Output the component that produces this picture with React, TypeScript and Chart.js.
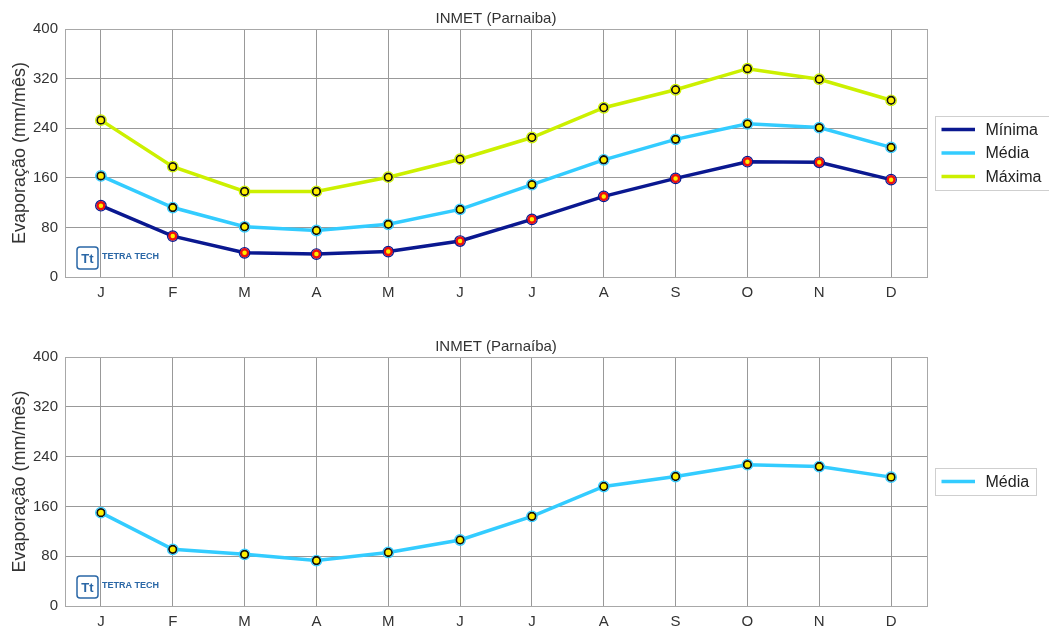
import React, { useEffect, useRef } from "react";
import { Chart, registerables } from "chart.js";
Chart.register(...registerables);

const months = ["J", "F", "M", "A", "M", "J", "J", "A", "S", "O", "N", "D"];
const minima = [115, 66, 39, 37, 41, 58, 93, 130, 159, 186, 185, 157];
const media = [163, 112, 81, 75, 85, 109, 149, 189, 222, 247, 241, 209];
const maxima = [253, 178, 138, 138, 161, 190, 225, 273, 302, 336, 319, 285];
const media2 = [150, 91, 83, 73, 86, 106, 144, 192, 208, 227, 224, 207];
const yMin = 0;
const yMax = 400;
const yStep = 80;
const titleTop = "INMET (Parnaiba)";
const titleBottom = "INMET (Parnaíba)";
const yTitle = "Evaporação (mm/mês)";
const logoText = "TETRA TECH";

const FONT = '"Liberation Sans", Arial, sans-serif';

const ringPlugin = {
  id: "rings",
  afterDatasetsDraw(chart: any) {
    const ctx = chart.ctx;
    ctx.save();
    chart.data.datasets.forEach((d: any, i: number) => {
      const meta = chart.getDatasetMeta(i);
      ctx.strokeStyle = d.borderColor;
      ctx.lineWidth = 1.2;
      meta.data.forEach((p: any) => {
        ctx.beginPath();
        ctx.arc(p.x, p.y, 5.3, 0, Math.PI * 2);
        ctx.stroke();
      });
    });
    ctx.restore();
  },
};

function overlayPlugin(title: string) {
  return {
    id: "overlay",
    afterDraw(chart: any) {
      const ctx = chart.ctx;
      const a = chart.chartArea;
      ctx.save();
      // frame
      ctx.strokeStyle = "#a8a8a8";
      ctx.lineWidth = 1;
      ctx.strokeRect(Math.round(a.left) + 0.5, Math.round(a.top) + 0.5, Math.round(a.right - a.left), Math.round(a.bottom - a.top));
      // title
      ctx.font = `15px ${FONT}`;
      ctx.fillStyle = "#333";
      ctx.textAlign = "center";
      ctx.textBaseline = "middle";
      ctx.fillText(title, (a.left + a.right) / 2, a.top - 10);
      // legend
      const ds = chart.data.datasets;
      const rowH = 23.5;
      ctx.font = `16px ${FONT}`;
      let maxW = 0;
      ds.forEach((d: any) => (maxW = Math.max(maxW, ctx.measureText(d.label).width)));
      const bx = a.right + 8;
      const bh = ds.length * rowH + 3.5;
      const by = (a.top + a.bottom) / 2 - bh / 2;
      const bw = 50.5 + maxW + 7;
      ctx.fillStyle = "#fff";
      ctx.fillRect(bx, by, bw, bh);
      ctx.strokeStyle = "#cfcfcf";
      ctx.strokeRect(Math.round(bx) + 0.5, Math.round(by) + 0.5, Math.round(bw), Math.round(bh));
      ds.forEach((d: any, i: number) => {
        const cy = by + 1.75 + rowH * (i + 0.5);
        ctx.strokeStyle = d.borderColor;
        ctx.lineWidth = 3.5;
        ctx.lineCap = "butt";
        ctx.beginPath();
        ctx.moveTo(bx + 6.5, cy);
        ctx.lineTo(bx + 40, cy);
        ctx.stroke();
        ctx.fillStyle = "#222";
        ctx.textAlign = "left";
        ctx.textBaseline = "middle";
        ctx.fillText(d.label, bx + 50.5, cy + 1);
      });
      // logo
      const lx = a.left + 12;
      const ly = a.bottom - 30;
      ctx.strokeStyle = "#2a67a6";
      ctx.lineWidth = 1.5;
      ctx.beginPath();
      const w = 21, h = 22, r = 3;
      ctx.moveTo(lx + r, ly);
      ctx.lineTo(lx + w - r, ly);
      ctx.quadraticCurveTo(lx + w, ly, lx + w, ly + r);
      ctx.lineTo(lx + w, ly + h - r);
      ctx.quadraticCurveTo(lx + w, ly + h, lx + w - r, ly + h);
      ctx.lineTo(lx + r, ly + h);
      ctx.quadraticCurveTo(lx, ly + h, lx, ly + h - r);
      ctx.lineTo(lx, ly + r);
      ctx.quadraticCurveTo(lx, ly, lx + r, ly);
      ctx.stroke();
      ctx.fillStyle = "#2a67a6";
      ctx.font = `bold 13px ${FONT}`;
      ctx.textAlign = "center";
      ctx.textBaseline = "middle";
      ctx.fillText("Tt", lx + w / 2, ly + h / 2 + 1);
      ctx.font = `bold 9px ${FONT}`;
      ctx.textAlign = "left";
      ctx.fillText(logoText, lx + 25, ly + 9.5);
      ctx.restore();
    },
  };
}

function makeConfig(datasets: any[], title: string, padTop: number, padBottom: number) {
  return {
    type: "line",
    data: { labels: months, datasets },
    options: {
      responsive: false,
      animation: false,
      devicePixelRatio: 1,
      layout: { padding: { top: padTop, right: 122, bottom: padBottom, left: 0 } },
      plugins: { legend: { display: false }, title: { display: false }, tooltip: { enabled: false } },
      elements: { line: { tension: 0, borderWidth: 3.5 } },
      scales: {
        x: {
          offset: true,
          grid: { color: "#999", drawTicks: false, offset: false },
          border: { display: false },
          ticks: { color: "#333", font: { size: 15, family: FONT }, padding: 7 },
          afterFit: (s: any) => {
            s.height = 28;
          },
        },
        y: {
          min: yMin,
          max: yMax,
          grid: { color: "#999", drawTicks: false },
          border: { display: false },
          ticks: { stepSize: yStep, color: "#333", font: { size: 15, family: FONT }, padding: 7 },
          title: {
            display: true,
            text: yTitle,
            color: "#333",
            font: { size: 18, family: FONT },
            padding: { top: 9, bottom: 0 },
          },
          afterFit: (s: any) => {
            s.width = 65;
          },
        },
      },
    },
    plugins: [ringPlugin, overlayPlugin(title)],
  };
}

function ds(label: string, data: number[], color: string, ptBorder: string, ptRadius: number, ptBorderW: number) {
  return {
    label,
    data,
    borderColor: color,
    backgroundColor: color,
    borderWidth: 3.5,
    pointRadius: ptRadius,
    pointBorderWidth: ptBorderW,
    pointBackgroundColor: "#ffee00",
    pointBorderColor: ptBorder,
    fill: false,
  };
}

function ChartCanvas({ config, top, height }: { config: any; top: number; height: number }) {
  const ref = useRef<HTMLCanvasElement>(null);
  useEffect(() => {
    const c = new Chart(ref.current as HTMLCanvasElement, config);
    return () => c.destroy();
  }, []);
  return (
    <canvas
      ref={ref}
      width={1049}
      height={height}
      style={{ position: "absolute", left: 0, top, width: 1049, height, display: "block" }}
    />
  );
}

export default function App() {
  const topCfg = makeConfig(
    [
      ds("Mínima", minima, "#0a1890", "#ee1111", 3.5, 2.5),
      ds("Média", media, "#33ccff", "#111", 3.8, 1.8),
      ds("Máxima", maxima, "#ccf000", "#111", 3.8, 1.8),
    ],
    titleTop,
    29,
    0
  );
  const botCfg = makeConfig([ds("Média", media2, "#33ccff", "#111", 3.8, 1.8)], titleBottom, 47, 3);
  return (
    <div style={{ position: "fixed", left: 0, top: 0, width: 1049, height: 637, background: "#fff" }}>
      <ChartCanvas config={topCfg} top={0} height={305} />
      <ChartCanvas config={botCfg} top={310} height={327} />
    </div>
  );
}
